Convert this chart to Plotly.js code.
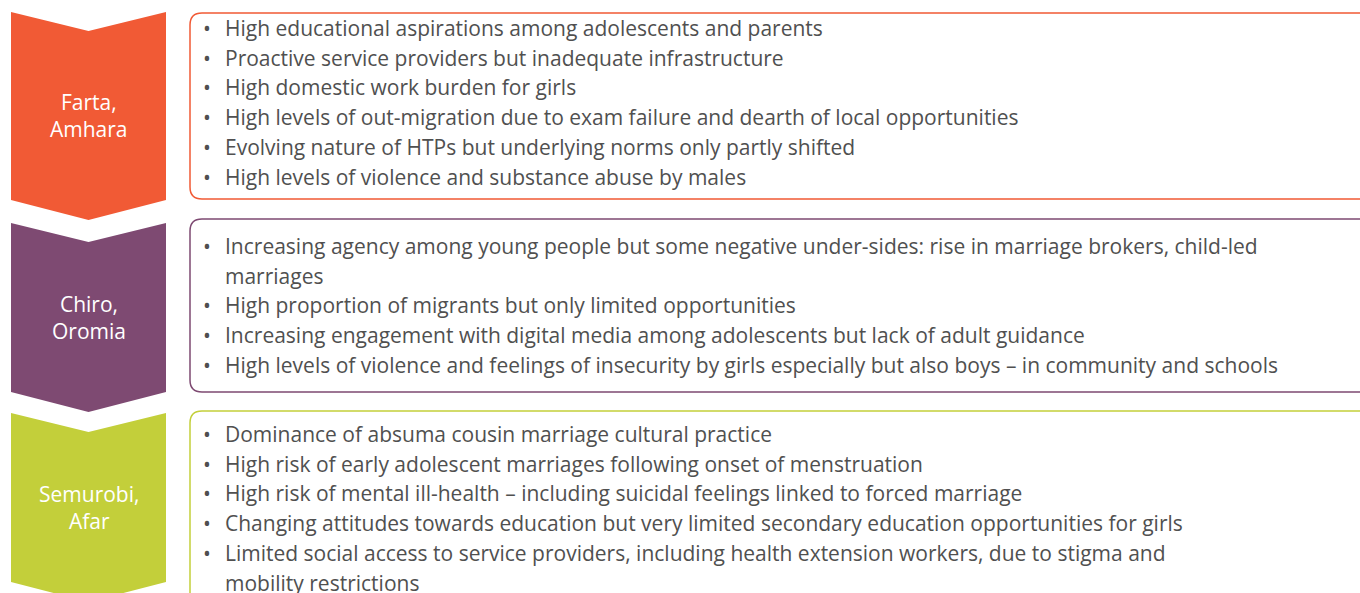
<!DOCTYPE html>
<html>
<head>
<meta charset="utf-8">
<script src="https://cdn.plot.ly/plotly-3.0.1.min.js"></script>
<style>html,body{margin:0;padding:0;background:#fff;}#chart{width:1360px;height:593px;}</style>
</head>
<body>
<div id="chart"></div>
<script>
// ---- data ----
const regionNames = [["Farta,", "Amhara"], ["Chiro,", "Oromia"], ["Semurobi,", "Afar"]];
const regionColors = ["#F15A35", "#7E4A72", "#C3CF3A"];
const fartaItems = [
  ["High educational aspirations among adolescents and parents"],
  ["Proactive service providers but inadequate infrastructure"],
  ["High domestic work burden for girls"],
  ["High levels of out-migration due to exam failure and dearth of local opportunities"],
  ["Evolving nature of HTPs but underlying norms only partly shifted"],
  ["High levels of violence and substance abuse by males"]
];
const chiroItems = [
  ["Increasing agency among young people but some negative under-sides: rise in marriage brokers, child-led", "marriages"],
  ["High proportion of migrants but only limited opportunities"],
  ["Increasing engagement with digital media among adolescents but lack of adult guidance"],
  ["High levels of violence and feelings of insecurity by girls especially but also boys \u2013 in community and schools"]
];
const semurobiItems = [
  ["Dominance of absuma cousin marriage cultural practice"],
  ["High risk of early adolescent marriages following onset of menstruation"],
  ["High risk of mental ill-health \u2013 including suicidal feelings linked to forced marriage"],
  ["Changing attitudes towards education but very limited secondary education opportunities for girls"],
  ["Limited social access to service providers, including health extension workers, due to stigma and", "mobility restrictions"]
];
const regionItems = [fartaItems, chiroItems, semurobiItems];

// ---- layout geometry (pixels) ----
const chevTop = [12, 223, 413];
const chevBottom = [200, 392, 582];
const chevX0 = 11, chevX1 = 166, notch = 19;
const boxTop = [13, 219, 411];
const boxBottom = [199, 392, 625];
const boxX0 = 190, boxX1 = 1380, rad = 12;
const firstLine = [28, 246, 434];
const lineGap = 29.7;
const FONT = "Open Sans, Liberation Sans, Arial, sans-serif";

const shapes = [];
const annotations = [];
const cx = (chevX0 + chevX1) / 2;

regionNames.forEach((nm, i) => {
  const t = chevTop[i], b = chevBottom[i];
  shapes.push({
    type: "path", xref: "x", yref: "y", layer: "below",
    path: `M${chevX0},${t} L${cx},${t + notch} L${chevX1},${t} L${chevX1},${b} L${cx},${b + notch + 1} L${chevX0},${b} Z`,
    fillcolor: regionColors[i], line: {width: 0}
  });
  const mid = (t + b + notch) / 2;
  annotations.push({
    x: cx, y: mid, xref: "x", yref: "y", xanchor: "center", yanchor: "middle",
    text: nm.join("<br>"), showarrow: false,
    font: {family: FONT, size: 21, color: "#ffffff"}
  });
  const y0 = boxTop[i], y1 = boxBottom[i], x0 = boxX0, x1 = boxX1, r = rad;
  shapes.push({
    type: "path", xref: "x", yref: "y",
    path: `M${x0 + r},${y0} L${x1 - r},${y0} Q${x1},${y0} ${x1},${y0 + r} L${x1},${y1 - r} Q${x1},${y1} ${x1 - r},${y1} L${x0 + r},${y1} Q${x0},${y1} ${x0},${y1 - r} L${x0},${y0 + r} Q${x0},${y0} ${x0 + r},${y0} Z`,
    fillcolor: "rgba(0,0,0,0)", line: {color: regionColors[i], width: 1.5}
  });
  let ln = 0;
  regionItems[i].forEach(item => {
    item.forEach((txt, k) => {
      const y = firstLine[i] + ln * lineGap;
      if (k === 0) {
        annotations.push({
          x: 207, y: y, xref: "x", yref: "y", xanchor: "center", yanchor: "middle",
          text: "\u2022", showarrow: false,
          font: {family: FONT, size: 21, color: "#505050"}
        });
      }
      annotations.push({
        x: 223, y: y, xref: "x", yref: "y", xanchor: "left", yanchor: "middle",
        text: txt, showarrow: false,
        font: {family: FONT, size: 21, color: "#505050"}
      });
      ln++;
    });
  });
});

const layout = {
  width: 1360, height: 593,
  margin: {l: 0, r: 0, t: 0, b: 0, pad: 0},
  paper_bgcolor: "#ffffff", plot_bgcolor: "#ffffff",
  xaxis: {range: [0, 1360], visible: false, fixedrange: true},
  yaxis: {range: [593, 0], visible: false, fixedrange: true},
  showlegend: false,
  shapes: shapes,
  annotations: annotations
};

Plotly.newPlot("chart", [{x: [], y: [], type: "scatter", mode: "markers", hoverinfo: "skip"}], layout, {staticPlot: true, displayModeBar: false});
</script>
</body>
</html>
